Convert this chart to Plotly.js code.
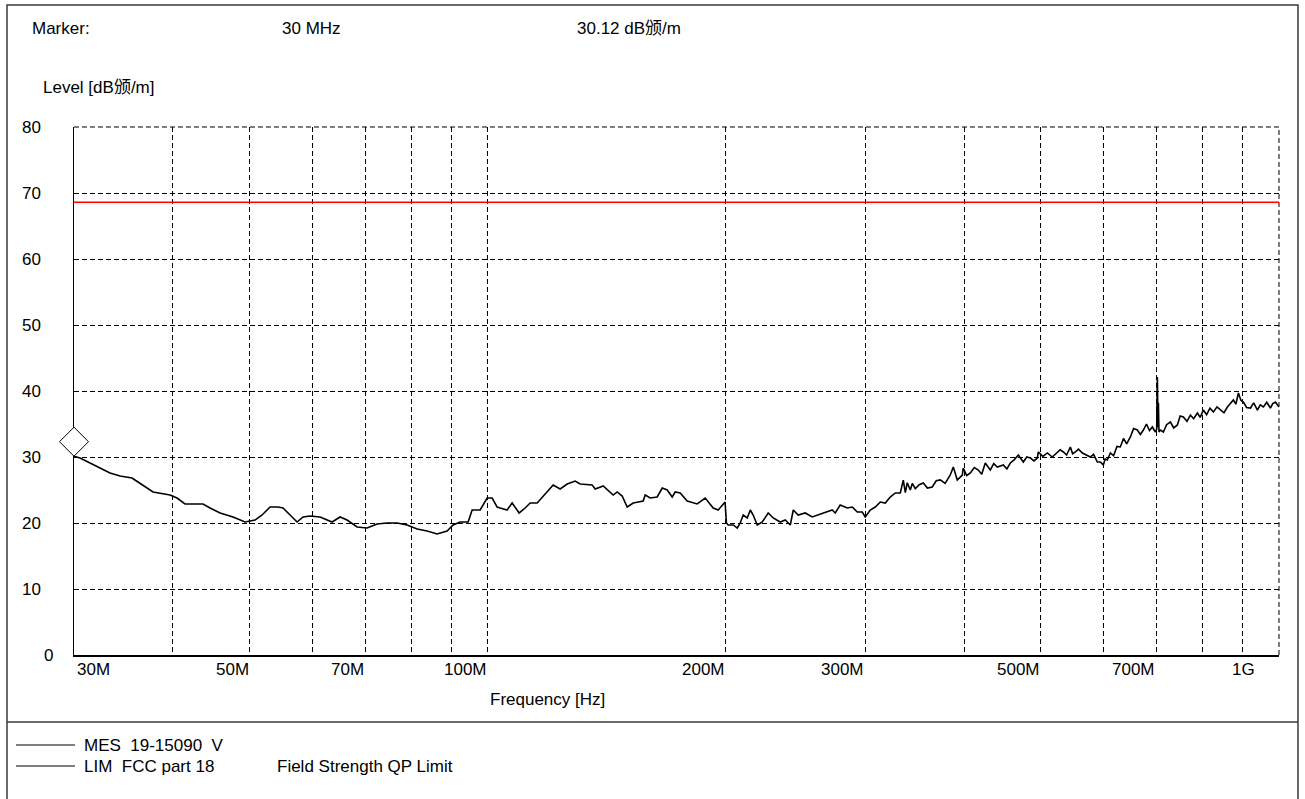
<!DOCTYPE html>
<html><head><meta charset="utf-8">
<script src="https://cdn.plot.ly/plotly-3.0.1.min.js"></script>
<style>html,body{margin:0;padding:0;background:#fff}#chart{width:1305px;height:799px}</style>
</head><body><div id="chart"></div>
<script>
// ---- data ----
const freqMHz = [
  30.0, 30.53, 31.43, 32.55, 33.31, 34.30, 35.52, 36.14, 37.10, 37.76,
  39.67, 40.49, 41.44, 43.67, 44.57, 45.89, 47.66, 49.35, 50.81, 51.86,
  53.08, 54.33, 55.12, 57.42, 58.43, 59.63, 61.39, 62.66, 63.58, 65.07,
  66.41, 68.38, 70.40, 72.47, 74.62, 76.82, 79.09, 81.42, 83.83, 86.31,
  88.85, 90.42, 92.28, 94.46, 95.56, 97.81, 99.83, 101.29, 102.78, 103.68,
  105.81, 107.36, 109.57, 111.50, 113.14, 115.47, 118.88, 120.97, 123.46, 126.01,
  128.97, 130.87, 135.52, 136.71, 139.93, 144.06, 145.75, 147.88, 150.05, 152.70,
  157.21, 158.12, 160.44, 163.74, 166.15, 168.58, 171.05, 172.55, 175.08, 178.69,
  183.96, 188.30, 192.74, 195.56, 199.5, 200.3, 201.3, 204.3, 206.7, 208.5,
  210.3, 212.8, 214.7, 216.5, 219.1, 222.3, 226.2, 229.5, 234.2, 237.7,
  241.2, 243.3, 246.8, 251.9, 257.1, 261.6, 267.0, 272.5, 274.9, 278.9,
  284.7, 288.9, 293.1, 297.4, 300.0, 304.4, 308.9, 313.4, 318.0, 322.6,
  327.4, 332.2, 335.1, 337.1, 339.0, 342.0, 344.0, 347.0, 351.0, 355.2,
  359.5, 364.6, 368.8, 373.2, 378.5, 384.2, 387.6, 392.1, 397.9, 399.0,
  403.0, 407.3, 412.0, 416.9, 421.0, 425.4, 431.7, 436.0, 440.6, 448.3,
  453.0, 457.6, 463.0, 468.3, 475.2, 480.0, 485.0, 490.0, 495.0, 496.4,
  503.0, 509.6, 517.0, 524.6, 529.0, 533.9, 539.0, 544.9, 548.5, 552.9,
  558.0, 564.3, 571.0, 577.5, 583.0, 589.4, 594.6, 599.8, 603.0, 606.8,
  612.2, 618.0, 624.0, 630.2, 636.0, 642.0, 648.9, 655.0, 662.2, 668.0,
  673.9, 680.0, 686.0, 691.8, 697.8, 700.5, 701.9, 703.2, 704.0, 705.2,
  708.1, 714.3, 721.0, 729.0, 736.0, 744.0, 750.0, 757.1, 765.0, 772.7,
  780.0, 788.6, 795.0, 802.5, 810.0, 818.0, 826.2, 835.0, 843.2, 852.0,
  860.6, 868.0, 875.7, 882.0, 888.6, 895.0, 901.6, 910.0, 920.2, 929.0,
  939.1, 947.0, 955.7, 965.0, 975.3, 982.0, 989.6, 1000.0
];
const levelDb = [
  30.12, 29.85, 29.09, 28.18, 27.58, 27.12, 26.82, 26.21, 25.30, 24.70,
  24.24, 23.79, 22.88, 22.88, 22.27, 21.52, 20.91, 20.15, 20.45, 21.21,
  22.42, 22.42, 22.27, 20.15, 20.91, 21.06, 20.91, 20.45, 20.15, 20.91,
  20.45, 19.39, 19.24, 19.85, 20.00, 20.00, 19.70, 19.09, 18.79, 18.33,
  18.79, 19.70, 20.15, 20.15, 21.97, 21.97, 23.79, 23.79, 22.42, 22.27,
  21.97, 23.03, 21.52, 22.27, 23.03, 23.03, 24.70, 25.76, 25.15, 25.91,
  26.36, 25.91, 25.76, 25.15, 25.61, 24.24, 24.70, 24.09, 22.42, 23.03,
  23.33, 24.24, 23.79, 23.94, 25.30, 25.00, 23.94, 24.70, 24.55, 23.33,
  22.88, 23.79, 22.27, 21.97, 23.18, 20.00, 19.70, 19.70, 19.24, 20.00,
  21.21, 20.76, 21.97, 21.21, 19.70, 20.15, 21.52, 20.76, 20.15, 20.45,
  19.70, 21.97, 21.21, 21.52, 20.91, 21.21, 21.67, 21.97, 21.52, 22.73,
  22.27, 22.42, 21.67, 21.67, 20.91, 21.97, 22.42, 23.18, 23.03, 23.94,
  24.55, 24.55, 26.50, 24.60, 26.10, 25.00, 26.00, 25.20, 25.80, 26.06,
  25.30, 25.45, 26.40, 26.52, 26.00, 27.27, 28.48, 26.52, 27.27, 28.33,
  27.20, 27.58, 28.40, 28.03, 27.40, 29.09, 28.03, 29.00, 28.48, 28.79,
  28.20, 29.09, 29.60, 30.30, 29.24, 30.00, 29.85, 29.40, 29.85, 30.76,
  30.10, 30.61, 30.00, 30.61, 31.10, 30.76, 30.30, 31.52, 30.50, 30.76,
  31.20, 30.61, 30.30, 30.00, 30.40, 29.24, 29.24, 28.80, 29.70, 29.55,
  30.61, 30.20, 31.60, 31.52, 32.80, 32.00, 33.03, 34.30, 34.09, 33.40,
  34.09, 35.00, 34.00, 34.55, 33.79, 34.20, 42.12, 34.50, 38.20, 33.80,
  34.09, 33.79, 34.90, 35.30, 34.40, 34.85, 36.20, 36.06, 35.40, 36.36,
  35.80, 36.67, 36.00, 37.12, 36.40, 37.40, 36.82, 37.60, 37.12, 36.70,
  37.58, 38.10, 38.64, 38.00, 39.70, 38.60, 38.33, 37.50, 37.42, 38.20,
  37.12, 37.90, 37.58, 38.30, 37.42, 38.10, 38.33, 37.58
];
const limitFreqMHz = [30, 1000];
const limitLevelDb = [68.6, 68.6];
const markerFreqMHz = 30;
const markerLevelDb = 30.12;
const yTickVals = [0, 10, 20, 30, 40, 50, 60, 70, 80];
const xGridMHz = [30, 40, 50, 60, 70, 80, 90, 100, 200, 300, 400, 500, 600, 700, 800, 900, 1000];
const xLabelMHz = [30, 50, 70, 100, 200, 300, 500, 700, 1000];
const xLabelText = ['30M', '50M', '70M', '100M', '200M', '300M', '500M', '700M', '1G'];
const headerTexts = ['Marker:', '30 MHz', '30.12 dB颁/m'];
const yTitleText = 'Level [dB颁/m]';
const xTitleText = 'Frequency [Hz]';
const legendNames = ['MES  19-15090  V', 'LIM  FCC part 18'];
const legendNotes = ['', 'Field Strength QP Limit'];

// ---- layout helpers (pixel -> paper) ----
const L = 74, T = 127, W = 1205, H = 528;
const X_RANGE = [Math.log10(30), Math.log10(1000)];
const Y_RANGE = [0, 80];
const px = x => (x - L) / W;
const py = y => (T + H - y) / H;
const FONT = 'Liberation Sans, Arial, Noto Sans CJK SC, sans-serif';
const FS = 17;
const DASH = '5px,3px';

const annotations = [];
function txt(text, x, y, xanchor) {
  annotations.push({
    text: text, xref: 'paper', yref: 'paper', x: px(x), y: py(y),
    xanchor: xanchor, yanchor: 'middle', showarrow: false,
    font: {family: FONT, size: FS, color: '#000'}
  });
}
txt(headerTexts[0], 30, 28, 'left');
txt(headerTexts[1], 280, 28, 'left');
txt(headerTexts[2], 575, 28, 'left');
txt(yTitleText, 41, 87, 'left');
txt(xTitleText, 547, 699, 'center');
const legendYs = [745, 766];
legendNames.forEach((n, i) => {
  txt(n, 82, legendYs[i], 'left');
  if (legendNotes[i]) txt(legendNotes[i], 275, legendYs[i], 'left');
});
xLabelMHz.forEach((v, i) => {
  annotations.push({
    text: xLabelText[i], xref: 'x', yref: 'paper', x: Math.log10(v), y: py(669),
    xanchor: i === 0 ? 'left' : 'right', yanchor: 'middle', showarrow: false,
    xshift: v === 1000 ? -22 : 1,
    font: {family: FONT, size: FS, color: '#000'}
  });
});
yTickVals.forEach(v => {
  annotations.push({
    text: String(v), xref: 'paper', yref: 'y', x: px(v === 0 ? 48 : 31), y: v,
    xanchor: 'center', yanchor: 'middle', showarrow: false,
    font: {family: FONT, size: FS, color: '#000'}
  });
});

// marker position in paper fraction (from its data value and the axis ranges)
const mX = (Math.log10(markerFreqMHz) - X_RANGE[0]) / (X_RANGE[1] - X_RANGE[0]);
const mY = (markerLevelDb - Y_RANGE[0]) / (Y_RANGE[1] - Y_RANGE[0]);

const shapes = [
  {type: 'rect', xref: 'paper', yref: 'paper', x0: px(7), x1: px(1298), y0: py(808), y1: py(5),
   line: {color: '#3a3a3a', width: 1.5}, fillcolor: 'rgba(0,0,0,0)', layer: 'below'},
  {type: 'line', xref: 'paper', yref: 'paper', x0: px(7), x1: px(1298), y0: py(722), y1: py(722),
   line: {color: '#3a3a3a', width: 1.5}},
  {type: 'line', xref: 'paper', yref: 'paper', x0: px(16), x1: px(75), y0: py(745), y1: py(745),
   line: {color: '#000', width: 1}},
  {type: 'line', xref: 'paper', yref: 'paper', x0: px(16), x1: px(75), y0: py(766), y1: py(766),
   line: {color: '#000', width: 1}},
  // top and right frame edges drawn as dashed grid lines
  {type: 'line', xref: 'paper', yref: 'paper', x0: 0, x1: 1, y0: 1, y1: 1,
   line: {color: '#000', width: 1, dash: DASH}, layer: 'below'},
  {type: 'line', xref: 'paper', yref: 'paper', x0: 1, x1: 1, y0: 0, y1: 1,
   line: {color: '#000', width: 1, dash: DASH}, layer: 'below'},
  {type: 'path', xref: 'paper', yref: 'paper', xsizemode: 'pixel', ysizemode: 'pixel',
   xanchor: mX, yanchor: mY,
   path: 'M0,0 L14.5,14.5 L0,29 L-14.5,14.5 Z',
   fillcolor: '#fff', line: {color: '#000', width: 1}, layer: 'above'}
];

const traces = [
  {x: limitFreqMHz, y: limitLevelDb, type: 'scatter', mode: 'lines',
   line: {color: '#ff0000', width: 1.3}, hoverinfo: 'skip', showlegend: false},
  {x: freqMHz, y: levelDb, type: 'scatter', mode: 'lines',
   line: {color: '#000', width: 1.6}, hoverinfo: 'skip', showlegend: false}
];

const axisCommon = {
  showgrid: true, gridcolor: '#000', gridwidth: 1, griddash: DASH,
  showline: true, linecolor: '#000', linewidth: 1.5, zeroline: false,
  ticks: '', showticklabels: false, fixedrange: true
};

const layout = {
  width: 1305, height: 799,
  margin: {l: L, r: 1305 - L - W, t: T, b: 799 - T - H},
  paper_bgcolor: '#fff', plot_bgcolor: '#fff',
  showlegend: false,
  font: {family: FONT, size: FS, color: '#000'},
  xaxis: Object.assign({}, axisCommon, {type: 'log', range: X_RANGE,
    tickmode: 'array', tickvals: xGridMHz}),
  yaxis: Object.assign({}, axisCommon, {range: Y_RANGE, tickmode: 'array', tickvals: yTickVals}),
  annotations: annotations,
  shapes: shapes
};

Plotly.newPlot('chart', traces, layout, {displayModeBar: false, staticPlot: true});
</script>
</body></html>
